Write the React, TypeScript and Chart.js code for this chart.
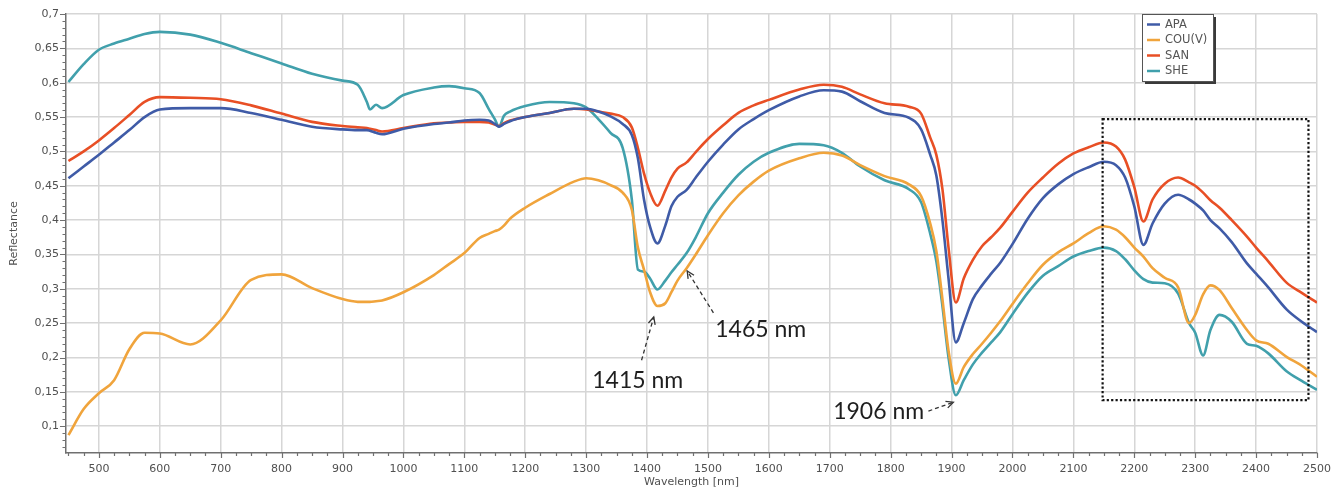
import React, { useEffect, useRef } from "react";
import { Chart, registerables } from "chart.js";

Chart.register(...registerables);

const wavelengths = [
  450, 475, 500, 525, 550, 575, 600, 650, 700, 750, 800, 850, 900, 925, 940, 945, 955, 965,
  1000, 1050, 1075, 1100, 1125, 1140, 1150, 1157, 1165, 1175, 1200, 1240, 1280, 1300, 1320,
  1340, 1360, 1375, 1385, 1395, 1405, 1417, 1430, 1440, 1450, 1465, 1480, 1500, 1525, 1550,
  1575, 1600, 1650, 1690, 1720, 1750, 1790, 1830, 1850, 1865, 1875, 1885, 1895, 1907, 1920,
  1935, 1950, 1965, 1980, 2000, 2025, 2050, 2075, 2100, 2125, 2150, 2170, 2185, 2200, 2215,
  2230, 2250, 2272, 2290, 2300, 2313, 2325, 2340, 2360, 2385, 2400, 2420, 2450, 2475, 2500,
];

const apa = [
  0.461, 0.478, 0.495, 0.513, 0.531, 0.55, 0.561, 0.563, 0.563, 0.556, 0.546, 0.536, 0.532, 0.531, 0.531, 0.53, 0.527, 0.525,
  0.533, 0.54, 0.542, 0.545, 0.546, 0.545, 0.54, 0.536, 0.54, 0.544, 0.55, 0.556, 0.562, 0.562, 0.558,
  0.551, 0.54, 0.524, 0.49, 0.43, 0.39, 0.366, 0.392, 0.42, 0.434, 0.444, 0.462, 0.485, 0.51, 0.532,
  0.547, 0.56, 0.58, 0.589, 0.587, 0.573, 0.556, 0.549, 0.532, 0.495, 0.465, 0.4, 0.315, 0.222, 0.25,
  0.285, 0.305, 0.322, 0.338, 0.365, 0.402, 0.432, 0.452, 0.467, 0.477, 0.485, 0.48, 0.462, 0.42, 0.364,
  0.395, 0.424, 0.437, 0.43, 0.424, 0.414, 0.4, 0.388, 0.368, 0.337, 0.322, 0.302, 0.27, 0.252, 0.237,
];

const couV = [
  0.087, 0.125, 0.148, 0.167, 0.212, 0.236, 0.235, 0.219, 0.254, 0.313, 0.321, 0.301, 0.285, 0.281, 0.281, 0.281, 0.282, 0.283,
  0.295, 0.32, 0.336, 0.352, 0.374, 0.38, 0.384, 0.386, 0.392, 0.402, 0.418, 0.438, 0.456, 0.461, 0.458,
  0.451, 0.44, 0.415, 0.36, 0.328, 0.295, 0.275, 0.279, 0.295, 0.312, 0.33, 0.35, 0.378, 0.41, 0.436,
  0.456, 0.472, 0.49, 0.498, 0.494, 0.48, 0.464, 0.452, 0.435, 0.395, 0.355, 0.285, 0.21, 0.162, 0.186,
  0.205, 0.22, 0.236, 0.253, 0.278, 0.308, 0.335, 0.353, 0.366, 0.381, 0.391, 0.386, 0.375, 0.36, 0.347,
  0.33, 0.316, 0.302, 0.25, 0.262, 0.292, 0.305, 0.298, 0.272, 0.24, 0.225, 0.22, 0.201, 0.188, 0.172,
];

const san = [
  0.486, 0.5, 0.516, 0.534, 0.553, 0.572, 0.579, 0.578, 0.576, 0.567, 0.555, 0.543, 0.537, 0.535, 0.534, 0.533, 0.531, 0.529,
  0.534, 0.541, 0.542, 0.543, 0.543, 0.542, 0.539, 0.537, 0.541, 0.545, 0.55, 0.556, 0.562, 0.561, 0.558,
  0.555, 0.55, 0.535, 0.505, 0.468, 0.44, 0.421, 0.443, 0.462, 0.475, 0.484, 0.499, 0.518, 0.538, 0.556,
  0.567, 0.575, 0.59, 0.597, 0.594, 0.583, 0.57, 0.565, 0.555, 0.52, 0.495, 0.445, 0.36, 0.28, 0.315,
  0.342, 0.362, 0.375, 0.389, 0.412, 0.44, 0.462, 0.482, 0.497, 0.506, 0.513, 0.507, 0.488, 0.448, 0.398,
  0.43, 0.453, 0.462, 0.455, 0.45, 0.44, 0.429, 0.418, 0.4, 0.376, 0.36, 0.34, 0.309, 0.294, 0.28,
];

const she = [
  0.601, 0.627, 0.648, 0.657, 0.664, 0.671, 0.674, 0.67, 0.658, 0.643, 0.628, 0.613, 0.603, 0.597, 0.572, 0.561, 0.568, 0.563,
  0.582, 0.593, 0.595, 0.592, 0.585, 0.562, 0.547, 0.536, 0.552, 0.558, 0.566, 0.572, 0.57, 0.564, 0.547,
  0.527, 0.505, 0.43, 0.328, 0.325, 0.315, 0.299, 0.312, 0.324, 0.335, 0.352, 0.375, 0.41, 0.44, 0.466,
  0.485, 0.498, 0.511, 0.509, 0.498, 0.478, 0.458, 0.445, 0.426, 0.38, 0.34, 0.275, 0.2, 0.145, 0.167,
  0.19, 0.207, 0.222, 0.237, 0.263, 0.294, 0.319, 0.333, 0.347, 0.355, 0.36, 0.355, 0.343, 0.327, 0.314,
  0.309, 0.308, 0.293, 0.25, 0.236, 0.203, 0.24, 0.262, 0.252, 0.22, 0.217, 0.206, 0.18, 0.166, 0.153,
];

const seriesNames = ["APA", "COU(V)", "SAN", "SHE"];
const seriesValues = [apa, couV, san, she];
const seriesColors = ["#3f5ba7", "#f0a43c", "#e84f25", "#41a0ac"];

const xTickValues = [
  500, 600, 700, 800, 900, 1000, 1100, 1200, 1300, 1400, 1500, 1600, 1700, 1800, 1900, 2000,
  2100, 2200, 2300, 2400, 2500,
];
const yTickValues = [0.1, 0.15, 0.2, 0.25, 0.3, 0.35, 0.4, 0.45, 0.5, 0.55, 0.6, 0.65, 0.7];

const xTitle = "Wavelength [nm]";
const yTitle = "Reflectance";

// annotation callouts: tip (nm, value), tail (nm, value), text anchor (nm, value)
const callouts = [
  { label: "1415 nm", tip: [1411, 0.259], tail: [1391, 0.196], text: [1310, 0.155], align: "left" },
  { label: "1465 nm", tip: [1466, 0.326], tail: [1509, 0.265], text: [1512, 0.23], align: "left" },
  { label: "1906 nm", tip: [1903, 0.135], tail: [1862, 0.122], text: [1855, 0.11], align: "right" },
];
const boxRegion = { x0: 2148, x1: 2486, y0: 0.138, y1: 0.547 };

const AXIS_COLOR = "#707070";
const GRID_COLOR = "#d6d6d6";
const TICK_FONT = "DejaVu Sans";

const extrasPlugin = {
  id: "extras",
  afterDatasetsDraw(chart: any) {
    const { ctx } = chart;
    const xs = chart.scales.x;
    const ys = chart.scales.y;
    ctx.save();
    // dotted box
    ctx.strokeStyle = "#111";
    ctx.lineWidth = 2.2;
    ctx.setLineDash([2.2, 2.2]);
    const bx0 = xs.getPixelForValue(boxRegion.x0);
    const bx1 = xs.getPixelForValue(boxRegion.x1);
    const by0 = ys.getPixelForValue(boxRegion.y1);
    const by1 = ys.getPixelForValue(boxRegion.y0);
    ctx.strokeRect(bx0, by0, bx1 - bx0, by1 - by0);

    // callouts
    ctx.font = "23px Lato";
    ctx.fillStyle = "#1e1e1e";
    ctx.textBaseline = "alphabetic";
    for (const c of callouts) {
      const tx = xs.getPixelForValue(c.tip[0]);
      const ty = ys.getPixelForValue(c.tip[1]);
      const sx = xs.getPixelForValue(c.tail[0]);
      const sy = ys.getPixelForValue(c.tail[1]);
      ctx.strokeStyle = "#333";
      ctx.lineWidth = 1.3;
      ctx.setLineDash([4, 3]);
      ctx.beginPath();
      ctx.moveTo(sx, sy);
      ctx.lineTo(tx, ty);
      ctx.stroke();
      ctx.setLineDash([]);
      const ang = Math.atan2(ty - sy, tx - sx);
      const len = 8;
      ctx.beginPath();
      ctx.moveTo(tx - len * Math.cos(ang - 0.45), ty - len * Math.sin(ang - 0.45));
      ctx.lineTo(tx, ty);
      ctx.lineTo(tx - len * Math.cos(ang + 0.45), ty - len * Math.sin(ang + 0.45));
      ctx.stroke();
      ctx.textAlign = c.align as CanvasTextAlign;
      ctx.fillText(c.label, xs.getPixelForValue(c.text[0]), ys.getPixelForValue(c.text[1]));
    }
    ctx.restore();
  },
  afterDraw(chart: any) {
    const { ctx, chartArea } = chart;
    const xs = chart.scales.x;
    const ys = chart.scales.y;
    ctx.save();
    // axis minor/major ticks
    ctx.strokeStyle = AXIS_COLOR;
    ctx.lineWidth = 1.2;
    ctx.beginPath();
    for (let v = 450; v <= 2500; v += 25) {
      const px = Math.round(xs.getPixelForValue(v)) + 0.5;
      if (px < chartArea.left || px > chartArea.right + 1) continue;
      const l = v % 100 === 0 ? 5 : 3;
      ctx.moveTo(px, chartArea.bottom);
      ctx.lineTo(px, chartArea.bottom + l);
    }
    for (let i = 7; i <= 70; i++) {
      const v = i / 100;
      const py = Math.round(ys.getPixelForValue(v)) + 0.5;
      const l = i % 5 === 0 ? 6 : 3.5;
      ctx.moveTo(chartArea.left, py);
      ctx.lineTo(chartArea.left - l, py);
    }
    ctx.stroke();

    // legend box
    const lx = 1142, ly = 14, lw = 71, lh = 67;
    ctx.fillStyle = "#3a3a3a";
    ctx.fillRect(lx + 3, ly + 3, lw, lh);
    ctx.fillStyle = "#ffffff";
    ctx.fillRect(lx, ly, lw, lh);
    ctx.strokeStyle = "#555";
    ctx.lineWidth = 1;
    ctx.strokeRect(lx + 0.5, ly + 0.5, lw, lh);
    ctx.font = "11.5px " + TICK_FONT;
    ctx.textAlign = "left";
    ctx.textBaseline = "middle";
    seriesNames.forEach((name, i) => {
      const yy = ly + 10.5 + i * 15.5;
      ctx.strokeStyle = seriesColors[i];
      ctx.lineWidth = 2.5;
      ctx.beginPath();
      ctx.moveTo(lx + 5, yy);
      ctx.lineTo(lx + 18, yy);
      ctx.stroke();
      ctx.fillStyle = "#555";
      ctx.fillText(name, lx + 23, yy + 0.5);
    });
    ctx.restore();
  },
};

export default function App() {
  const canvasRef = useRef<HTMLCanvasElement | null>(null);

  useEffect(() => {
    document.body.style.margin = "0";
    const canvas = canvasRef.current;
    if (!canvas) return;
    const datasets = seriesNames.map((name, si) => ({
      label: name,
      data: wavelengths.map((w, i) => ({ x: w, y: seriesValues[si][i] })),
      borderColor: seriesColors[si],
      backgroundColor: seriesColors[si],
      borderWidth: 2.6,
      pointRadius: 0,
      fill: false,
      cubicInterpolationMode: "monotone" as const,
    }));
    const chart = new Chart(canvas, {
      type: "line",
      data: { datasets },
      options: {
        responsive: false,
        animation: false,
        layout: { padding: { top: 14, right: 26, left: 0, bottom: 0 } },
        plugins: {
          legend: { display: false },
          tooltip: { enabled: false },
        },
        scales: {
          x: {
            type: "linear",
            min: 446,
            max: 2500,
            afterBuildTicks: (s: any) => {
              s.ticks = xTickValues.map((v) => ({ value: v }));
            },
            afterFit: (s: any) => {
              s.height = 35;
            },
            ticks: {
              autoSkip: false,
              maxRotation: 0,
              padding: 10,
              color: "#505050",
              font: { family: TICK_FONT, size: 11 },
              callback: (v: any) => String(v),
            },
            grid: { color: GRID_COLOR, lineWidth: 1.5, drawTicks: false },
            border: { display: true, color: AXIS_COLOR, width: 1.5 },
            title: {
              display: true,
              text: xTitle,
              color: "#505050",
              font: { family: TICK_FONT, size: 11 },
              padding: { top: 0, bottom: -1 },
            },
          },
          y: {
            type: "linear",
            min: 0.061,
            max: 0.7,
            afterBuildTicks: (s: any) => {
              s.ticks = yTickValues.map((v) => ({ value: v }));
            },
            afterFit: (s: any) => {
              s.width = 66;
            },
            ticks: {
              padding: 7,
              color: "#505050",
              font: { family: TICK_FONT, size: 11 },
              callback: (v: any) => String(+Number(v).toFixed(2)).replace(".", ","),
            },
            grid: { color: GRID_COLOR, lineWidth: 1.5, drawTicks: false },
            border: { display: true, color: AXIS_COLOR, width: 1.5 },
            title: {
              display: true,
              text: yTitle,
              color: "#505050",
              font: { family: TICK_FONT, size: 11 },
              padding: { top: 8, bottom: 0 },
            },
          },
        },
      },
      plugins: [extrasPlugin],
    });
    return () => chart.destroy();
  }, []);

  return (
    <div style={{ width: 1343, height: 488, background: "#fff" }}>
      <canvas ref={canvasRef} width={1343} height={488} style={{ display: "block" }} />
    </div>
  );
}
